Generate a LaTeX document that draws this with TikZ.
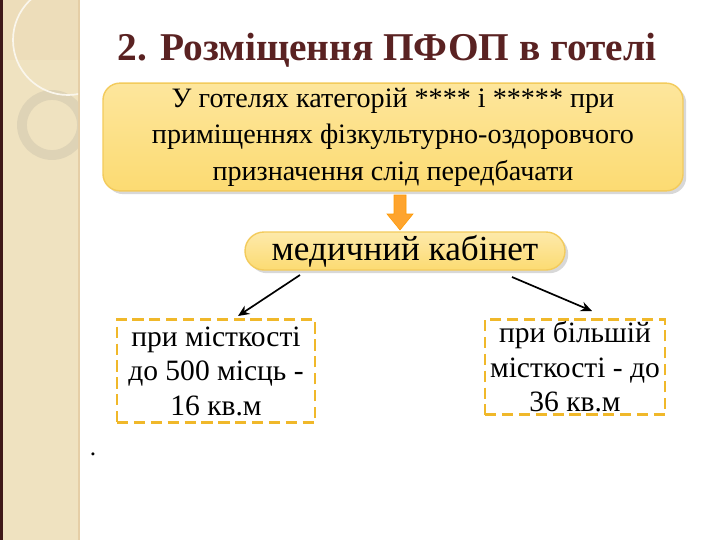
\documentclass[tikz,border=0pt]{standalone}
\usepackage{fontspec}
\setmainfont{Liberation Serif}
\usetikzlibrary{arrows.meta,shadows}
\definecolor{strip}{HTML}{EFE2C0}
\definecolor{ttl}{HTML}{5A2222}
\definecolor{yel}{HTML}{FCDB72}
\definecolor{yelb}{HTML}{F3CB5C}
\definecolor{dash}{HTML}{F0B82A}
\tikzset{
 txt/.style={font=\fontsize{20}{26}\selectfont, align=center, text=black},
 dbox/.style={draw=dash, line width=1.6pt, dash pattern=on 8pt off 4pt, align=center, font=\fontsize{21}{24.5}\selectfont},
 arr/.style={-{Stealth[length=8pt,width=7pt]}, line width=1.2pt}
}
\begin{document}
\begin{tikzpicture}[x=0.025cm,y=-0.025cm]
\useasboundingbox (0,0) rectangle (720,540);
\fill[white] (0,0) rectangle (720,540);
\fill[strip] (0,0) rectangle (78,540);
\fill[ttl!70!black] (0,0) rectangle (3,540);
\draw[strip!80!brown, line width=1pt] (79,0) -- (79,540);
\begin{scope}
\clip (3,0) rectangle (78,540);
\fill[strip!95!brown] (3,0) rectangle (78,60);
\draw[strip!85!gray, line width=7pt] (52,125) circle (30);
\draw[white!70!strip, line width=1.2pt] (68,40) circle (55);
\end{scope}
\node[font=\fontsize{28}{32}\selectfont\bfseries, text=ttl] (title) at (387,50) {2. Розміщення ПФОП в готелі};
\node[txt, rounded corners=12pt, minimum width=580*0.025cm, minimum height=107*0.025cm,
  top color=yel!70!white, bottom color=yel, draw=yelb, line width=1pt, drop shadow={opacity=0.3}] (top) at (393,137)
 {У готелях категорій **** і ***** при\\приміщеннях фізкультурно-оздоровчого\\призначення слід передбачати};
\node[rounded corners=19*0.025cm, minimum width=320*0.025cm, minimum height=38*0.025cm, inner sep=1pt,
  top color=yel!60!white, bottom color=yel, draw=yelb, line width=1pt, drop shadow={opacity=0.3},
  font=\fontsize{25}{28}\selectfont] (med) at (405,251) {медичний кабінет};
\fill[yel!40!orange, draw=orange!80!yellow] (394,195) -- (406,195) -- (406,214) -- (413,214) -- (400,230) -- (387,214) -- (394,214) -- cycle;
\node[dbox, minimum width=198*0.025cm, minimum height=103*0.025cm, inner sep=1pt] (l) at (216,371) {при місткості\\до 500 місць -\\16 кв.м};
\node[dbox, minimum width=180*0.025cm, minimum height=95*0.025cm, inner sep=1pt] (r) at (575,367) {при більшій\\місткості - до\\36 кв.м};
\coordinate (la) at (300,275); \coordinate (lb) at (238,316);
\coordinate (ra) at (512,277); \coordinate (rb) at (592,311);
\draw[arr] (la) -- (lb);
\draw[arr] (ra) -- (rb);
\node[font=\fontsize{18}{20}\selectfont] (dot) at (93,454) {.};
\end{tikzpicture}
\end{document}
